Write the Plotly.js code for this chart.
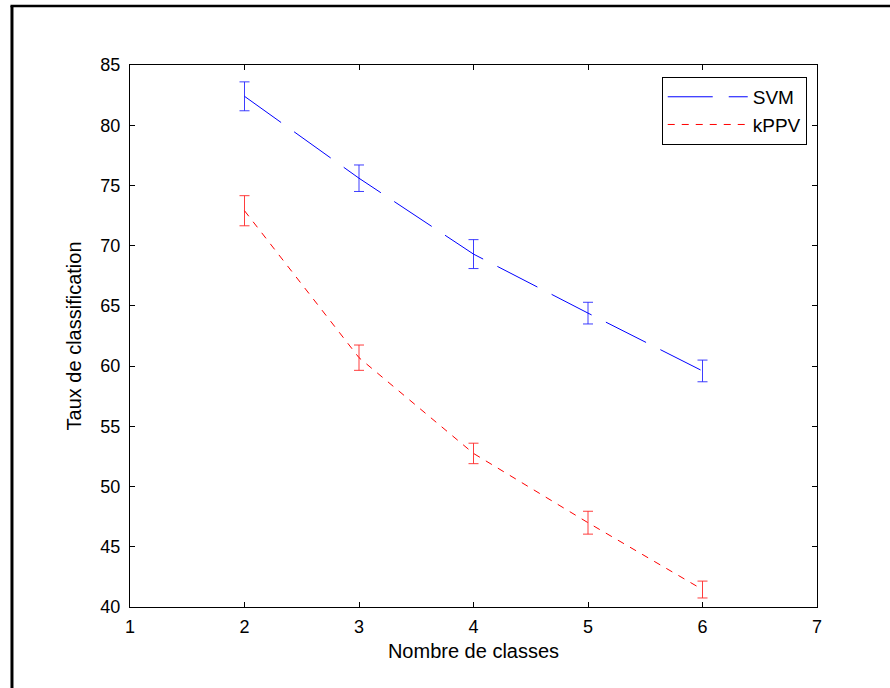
<!DOCTYPE html>
<html>
<head>
<meta charset="utf-8">
<script src="https://cdn.plot.ly/plotly-3.0.1.min.js"></script>
<style>
html,body{margin:0;padding:0;background:#fff;}
#chart{width:890px;height:688px;}
</style>
</head>
<body>
<div id="chart"></div>
<script>
// Data
var classes = [2, 3, 4, 5, 6];
var svmRate = [82.4, 75.6, 69.3, 64.4, 59.6];
var svmErr = [1.2, 1.1, 1.2, 0.9, 0.9];
var kppvRate = [72.9, 60.7, 52.75, 47.0, 41.45];
var kppvErr = [1.25, 1.05, 0.85, 0.95, 0.7];
var xTicks = [1, 2, 3, 4, 5, 6, 7];
var yTicks = [40, 45, 50, 55, 60, 65, 70, 75, 80, 85];

var fam = 'Liberation Sans, Arial, sans-serif';
var tickFont = {family: fam, size: 18, color: '#000'};
var titleFont = {family: fam, size: 20, color: '#000'};

var traces = [
  {
    x: classes, y: svmRate, name: 'SVM', type: 'scatter', mode: 'lines',
    line: {color: '#0000ff', width: 1, dash: '45px,16px'},
    error_y: {type: 'data', array: svmErr, visible: true, color: 'rgba(40,40,255,0.9)', thickness: 1, width: 5}
  },
  {
    x: classes, y: kppvRate, name: 'kPPV', type: 'scatter', mode: 'lines',
    line: {color: '#ff0000', width: 1, dash: '7px,7px'},
    error_y: {type: 'data', array: kppvErr, visible: true, color: 'rgba(255,40,40,0.9)', thickness: 1, width: 5}
  }
];

var layout = {
  width: 890, height: 688,
  margin: {l: 130, r: 73, t: 65, b: 81},
  paper_bgcolor: '#fff', plot_bgcolor: '#fff',
  font: tickFont,
  showlegend: true,
  legend: {
    x: 0.774, y: 0.978, xanchor: 'left', yanchor: 'top',
    bordercolor: '#000', borderwidth: 1, bgcolor: '#fff',
    font: {family: fam, size: 19, color: '#000'},
    itemwidth: 80
  },
  xaxis: {
    range: [1, 7], tickvals: xTicks, ticktext: xTicks.map(String),
    showgrid: false, zeroline: false,
    showline: true, linecolor: '#000', linewidth: 1, mirror: 'ticks',
    ticks: 'inside', ticklen: 5, tickcolor: '#000',
    tickfont: tickFont, ticklabelstandoff: 3,
    title: {text: 'Nombre de classes', font: titleFont, standoff: 8}
  },
  yaxis: {
    range: [40, 85], tickvals: yTicks, ticktext: yTicks.map(String),
    showgrid: false, zeroline: false,
    showline: true, linecolor: '#000', linewidth: 1, mirror: 'ticks',
    ticks: 'inside', ticklen: 5, tickcolor: '#000',
    tickfont: tickFont, ticklabelstandoff: 5,
    title: {text: 'Taux de classification', font: titleFont, standoff: 13}
  },
  shapes: [
    {type: 'line', xref: 'paper', yref: 'paper', x0: -0.1718, x1: -0.1718, y0: 1.1089, y1: -0.16, line: {color: '#000', width: 3}},
    {type: 'line', xref: 'paper', yref: 'paper', x0: -0.174, x1: 1.11, y0: 1.1089, y1: 1.1089, line: {color: '#000', width: 2.5}}
  ]
};

Plotly.newPlot('chart', traces, layout, {displayModeBar: false, staticPlot: true});
</script>
</body>
</html>
